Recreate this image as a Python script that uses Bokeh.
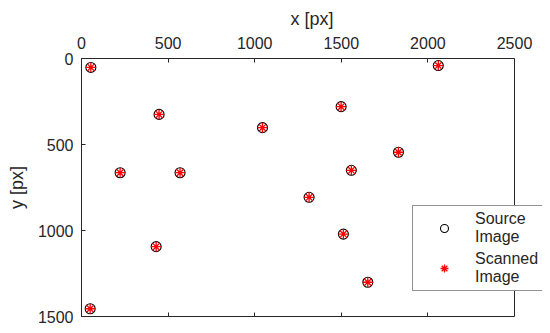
from bokeh.plotting import figure
from bokeh.models import Range1d, LinearAxis, Legend, LegendItem, FixedTicker, Span
from bokeh.embed import file_html
from bokeh.resources import INLINE

# data (pixel coordinates of calibration points)
source_x = [54, 2060, 1499, 448, 1045, 1830, 223, 569, 1558, 1314, 1512, 431, 1653, 50]
source_y = [52, 41, 280, 325, 402, 545, 664, 664, 650, 807, 1021, 1094, 1301, 1455]
scanned_x = [54, 2060, 1499, 448, 1045, 1830, 223, 569, 1558, 1314, 1512, 431, 1653, 50]
scanned_y = [52, 41, 280, 325, 402, 545, 664, 664, 650, 807, 1021, 1094, 1301, 1455]
x_ticks = [0, 500, 1000, 1500, 2000, 2500]
y_ticks = [0, 500, 1000, 1500]
x_lim = (0, 2500)
y_lim = (0, 1500)
labels = ["Source\nImage", "Scanned\nImage"]

FONT = "Liberation Sans"
DARK = "#262626"

# the frame extends a bit past x=2500 so that the legend may overhang the axes box
x_end = x_lim[1] * 461 / 433

p = figure(width=550, height=333, x_range=Range1d(x_lim[0], x_end),
           y_range=Range1d(y_lim[1], y_lim[0]),
           x_axis_location="above", output_backend="svg", toolbar_location=None,
           min_border_left=81, min_border_right=8, min_border_top=58, min_border_bottom=17)
p.xgrid.visible = False
p.ygrid.visible = False
p.outline_line_color = None
p.background_fill_color = "white"
p.border_fill_color = "white"

for ax in (p.xaxis[0], p.yaxis[0]):
    ax.major_label_text_font = FONT
    ax.major_label_text_font_size = "16px"
    ax.major_label_text_color = DARK
    ax.axis_label_text_font = FONT
    ax.axis_label_text_font_size = "18px"
    ax.axis_label_text_font_style = "normal"
    ax.axis_label_text_color = DARK
    ax.axis_line_color = DARK
    ax.major_tick_line_color = DARK
    ax.major_tick_in = 4
    ax.major_tick_out = 0
    ax.minor_tick_line_color = None

p.xaxis[0].ticker = FixedTicker(ticks=x_ticks)
p.xaxis[0].bounds = x_lim
p.yaxis[0].ticker = FixedTicker(ticks=y_ticks)
p.xaxis[0].axis_label = "x [px]"
p.yaxis[0].axis_label = "y [px]"
p.xaxis[0].major_label_standoff = 10
p.yaxis[0].major_label_standoff = 8
p.xaxis[0].axis_label_standoff = 5
p.yaxis[0].axis_label_standoff = 8

# box ticks on the bottom side
bx = LinearAxis(ticker=FixedTicker(ticks=x_ticks), bounds=x_lim,
                major_label_overrides={t: "" for t in x_ticks},
                major_label_standoff=0,
                major_tick_in=4, major_tick_out=0, minor_tick_line_color=None,
                axis_line_color=DARK, major_tick_line_color=DARK)
p.add_layout(bx, "below")

# right side of the axes box
p.add_layout(Span(location=x_lim[1], dimension="height", line_color=DARK, line_width=1))

r_src = p.scatter(source_x, source_y, marker="circle", size=10, fill_color=None,
                  line_color="black", line_width=1.1)
r_scn = p.scatter(scanned_x, scanned_y, marker="asterisk", size=10,
                  line_color="red", line_width=1.3)

legend = Legend(items=[LegendItem(label=labels[0], renderers=[r_src]),
                       LegendItem(label=labels[1], renderers=[r_scn])],
                location=(331, 25), margin=0, padding=2, spacing=0,
                glyph_width=58, glyph_height=20, label_standoff=2,
                label_width=65, label_height=40,
                label_text_font=FONT, label_text_font_size="16px",
                label_text_line_height=1.3, label_text_color=DARK,
                border_line_color=DARK, border_line_width=1,
                background_fill_color="white", background_fill_alpha=1.0)
p.add_layout(legend, "center")

open("out.html", "w").write(file_html(p, INLINE))
